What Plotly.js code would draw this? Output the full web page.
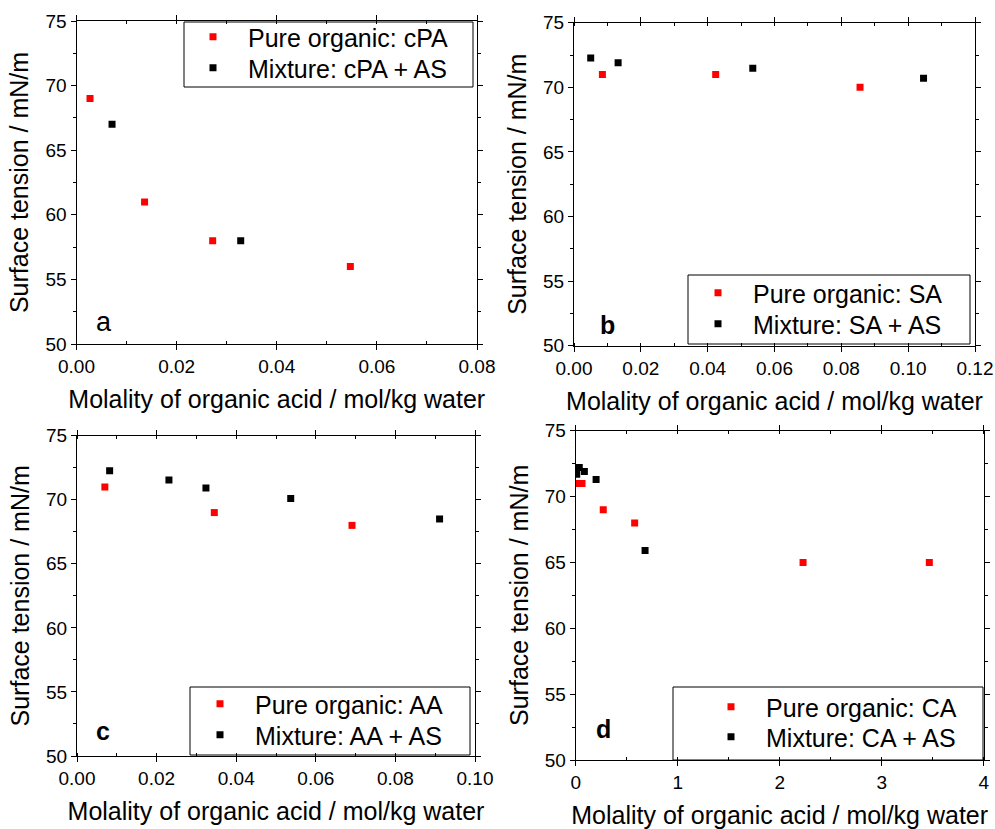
<!DOCTYPE html>
<html>
<head>
<meta charset="utf-8">
<script src="https://cdn.plot.ly/plotly-3.0.1.min.js"></script>
<style>html,body{margin:0;padding:0;background:#fff;}#chart{width:995px;height:829px;}</style>
</head>
<body>
<div id="chart"></div>
<script>
// ---- Data ----
// Panel a: cPA
const aPureX = [0.0027, 0.0136, 0.0272, 0.0547];
const aPureY = [69, 61, 58, 56];
const aMixX  = [0.0071, 0.0328];
const aMixY  = [67, 58];
// Panel b: SA
const bPureX = [0.0085, 0.0424, 0.0856];
const bPureY = [71, 71, 70];
const bMixX  = [0.0050, 0.0132, 0.0535, 0.1046];
const bMixY  = [72.27, 71.9, 71.47, 70.7];
// Panel c: AA
const cPureX = [0.0070, 0.0345, 0.0691];
const cPureY = [71, 69, 68];
const cMixX  = [0.0082, 0.0231, 0.0324, 0.0537, 0.0911];
const cMixY  = [72.27, 71.54, 70.92, 70.1, 68.5];
// Panel d: CA
const dPureX = [0.025, 0.062, 0.27, 0.578, 2.229, 3.467];
const dPureY = [71, 71, 69, 68, 65, 65];
const dMixX  = [0.01, 0.035, 0.085, 0.2, 0.68];
const dMixY  = [71.7, 72.2, 71.9, 71.3, 65.9];

const pureNames = ["Pure organic: cPA", "Pure organic: SA", "Pure organic: AA", "Pure organic: CA"];
const mixNames  = ["Mixture: cPA + AS", "Mixture: SA + AS", "Mixture: AA + AS", "Mixture: CA + AS"];
const panelLabels = ["a", "<b>b</b>", "<b>c</b>", "<b>d</b>"];
const xTitle = "Molality of organic acid / mol/kg water";
const yTitle = "Surface tension / mN/m";

// ---- Layout helpers ----
const W = 995, H = 829;
const px = v => v / W;
const py = v => 1 - v / H;
const FONT = "Liberation Sans, Arial, Helvetica, sans-serif";

const pureX = [aPureX, bPureX, cPureX, dPureX];
const pureY = [aPureY, bPureY, cPureY, dPureY];
const mixX = [aMixX, bMixX, cMixX, dMixX];
const mixY = [aMixY, bMixY, cMixY, dMixY];

// plot areas in pixels [left, right, top, bottom]
const areas = [
  [76.5, 477, 21, 344],
  [574, 975, 22.7, 345.7],
  [77, 475, 435.7, 756],
  [575.7, 983.7, 430.7, 760]
];
const xRanges = [[0, 0.08], [0, 0.12], [0, 0.1], [0, 4]];
const xDtick = [0.02, 0.02, 0.02, 1];
const xMinor = [0.01, 0.01, 0.01, 0.5];
const xFmt = [".2f", ".2f", ".2f", "d"];

// legend boxes [left, right, top, bottom]
const legBoxes = [
  [184, 473, 22, 87],
  [688, 970, 275, 344],
  [190, 470, 687, 755],
  [673, 983, 687, 760]
];
// legend entry anchors (left, top) in pixels: [pure, mixture]
const legPos = [
  [[178, 14], [178, 45]],
  [[683, 270], [683, 301]],
  [[185, 681], [185, 712]],
  [[696, 684], [696, 714]]
];
const labelPos = [[103.5, 322], [607, 325], [103, 731], [603, 729]];

const traces = [];
const layout = {
  width: W, height: H,
  margin: {l: 0, r: 0, t: 0, b: 0},
  paper_bgcolor: "#fff", plot_bgcolor: "#fff",
  font: {family: FONT, color: "#000"},
  showlegend: true,
  shapes: [], annotations: []
};

function legendDef(pos) {
  return {
    x: px(pos[0]), y: py(pos[1]), xanchor: "left", yanchor: "top",
    xref: "paper", yref: "paper",
    bgcolor: "rgba(0,0,0,0)", borderwidth: 0,
    font: {family: FONT, size: 25, color: "#000"},
    itemwidth: 60, tracegroupgap: 0, traceorder: "normal"
  };
}

for (let i = 0; i < 4; i++) {
  const sfx = i === 0 ? "" : String(i + 1);
  const legA = i === 0 ? "legend" : "legend" + (2 * i + 1);
  const legB = "legend" + (2 * i + 2);
  traces.push({
    type: "scatter", mode: "markers", name: pureNames[i],
    x: pureX[i], y: pureY[i], xaxis: "x" + sfx, yaxis: "y" + sfx, legend: legA,
    marker: {symbol: "square", size: 7, color: "#ff0000", line: {width: 0}}
  });
  traces.push({
    type: "scatter", mode: "markers", name: mixNames[i],
    x: mixX[i], y: mixY[i], xaxis: "x" + sfx, yaxis: "y" + sfx, legend: legB,
    marker: {symbol: "square", size: 7, color: "#000000", line: {width: 0}}
  });
  const a = areas[i];
  layout["xaxis" + sfx] = {
    domain: [px(a[0]), px(a[1])], anchor: "y" + sfx,
    range: xRanges[i], dtick: xDtick[i], tick0: 0, tickformat: xFmt[i],
    showline: true, linecolor: "#000", linewidth: 1, mirror: "ticks",
    ticks: "outside", ticklen: 5, tickcolor: "#000", tickwidth: 1,
    minor: {dtick: xMinor[i], ticks: "inside", ticklen: 3, tickcolor: "#000", showgrid: false},
    showgrid: false, zeroline: false,
    tickfont: {family: FONT, size: 19, color: "#000"},
    title: {text: xTitle, font: {family: FONT, size: 25, color: "#000"}, standoff: 14}
  };
  layout["yaxis" + sfx] = {
    domain: [py(a[3]), py(a[2])], anchor: "x" + sfx,
    range: [50, 75], dtick: 5, tick0: 50,
    showline: true, linecolor: "#000", linewidth: 1, mirror: "ticks",
    ticks: "outside", ticklen: 5, tickcolor: "#000", tickwidth: 1,
    minor: {dtick: 2.5, ticks: "outside", ticklen: 3, tickcolor: "#000", showgrid: false},
    showgrid: false, zeroline: false,
    tickfont: {family: FONT, size: 19, color: "#000"},
    title: {text: yTitle, font: {family: FONT, size: 25, color: "#000"}, standoff: 9}
  };
  layout[legA] = legendDef(legPos[i][0]);
  layout[legB] = legendDef(legPos[i][1]);
  const lb = legBoxes[i];
  layout.shapes.push({
    type: "rect", xref: "paper", yref: "paper",
    x0: px(lb[0]), x1: px(lb[1]), y0: py(lb[3]), y1: py(lb[2]),
    line: {color: "#000", width: 1}, fillcolor: "rgba(0,0,0,0)"
  });
  layout.annotations.push({
    xref: "paper", yref: "paper", x: px(labelPos[i][0]), y: py(labelPos[i][1]),
    xanchor: "center", yanchor: "middle", showarrow: false,
    text: panelLabels[i], font: {family: FONT, size: i === 0 ? 27 : 25, color: "#000"}
  });
}

Plotly.newPlot("chart", traces, layout, {displayModeBar: false, staticPlot: true});
</script>
</body>
</html>
